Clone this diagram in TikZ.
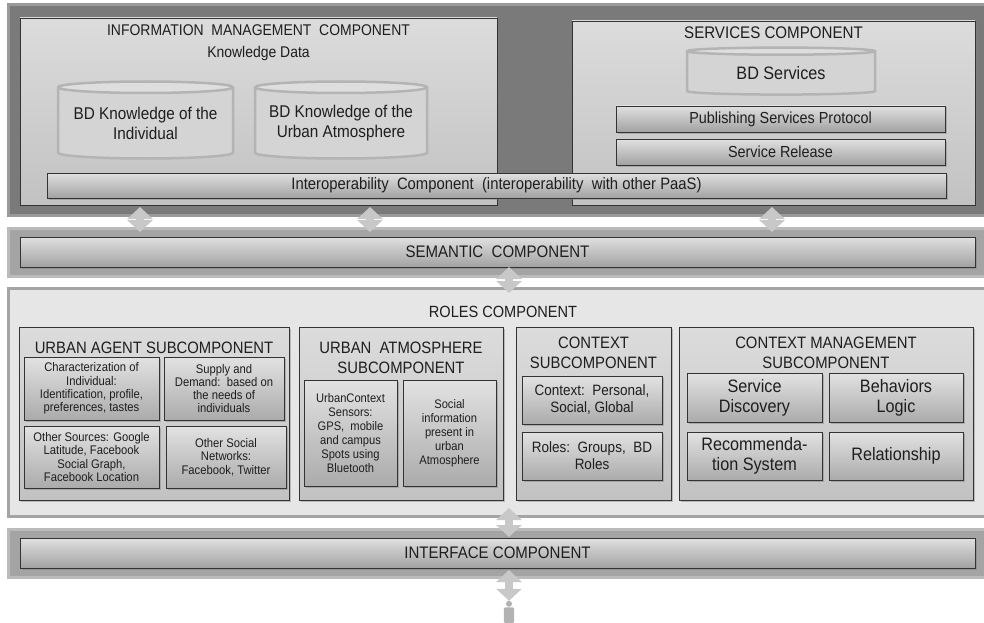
\documentclass[tikz,border=0pt]{standalone}
\usepackage{fontspec}
\setmainfont{Liberation Sans}[FakeStretch=0.9]
\usepackage{tikz}
\usetikzlibrary{positioning,shapes.geometric,shadows,arrows.meta}
\definecolor{txt}{HTML}{1E1E1E}
\definecolor{darkband}{HTML}{7A7A7A}
\definecolor{darkrim}{HTML}{9A9A9A}
\definecolor{midband}{HTML}{A4A4A4}
\definecolor{midrim}{HTML}{BBBBBB}
\definecolor{lightband}{HTML}{E6E6E6}
\definecolor{lightrim}{HTML}{A4A4A4}
\definecolor{paneltop}{HTML}{DCDCDC}
\definecolor{panelbot}{HTML}{C2C2C2}
\definecolor{bartop}{HTML}{E0E0E0}
\definecolor{barbot}{HTML}{A2A2A2}
\definecolor{celltop}{HTML}{E2E2E2}
\definecolor{cellbot}{HTML}{ABABAB}
\definecolor{dbfill}{HTML}{D4D4D4}
\definecolor{dbtop}{HTML}{DEDEDE}
\definecolor{dbrim}{HTML}{B4B4B4}
\definecolor{arrowgrey}{HTML}{C8C8C8}
\definecolor{usergrey}{HTML}{B2B2B2}
\newcommand{\fsz}[2]{\fontsize{#1}{#2}\selectfont}

\begin{document}
\begin{tikzpicture}[x=1pt,y=-1pt,
    every node/.style={text=txt,align=center,inner sep=0pt},
    band/.style={rectangle,minimum width=990pt,line width=3pt,anchor=west},
    boxshadow/.style={drop shadow={shadow xshift=1.5pt,shadow yshift=-1.5pt,opacity=.45}},
    panel/.style={rectangle,draw=black!80,line width=.8pt,top color=paneltop,bottom color=panelbot,boxshadow},
    bar/.style={rectangle,draw=black!80,line width=.8pt,top color=bartop,bottom color=barbot,boxshadow},
    cell/.style={rectangle,draw=black!80,line width=.8pt,top color=celltop,bottom color=cellbot,boxshadow},
    db/.style={cylinder,shape border rotate=90,aspect=0.08,draw=dbrim,line width=2.5pt,
        cylinder uses custom fill,cylinder body fill=dbfill,cylinder end fill=dbtop},
    title/.style={font=\fsz{16.5}{20}},
    updown/.style={{Triangle[width=25pt,length=12pt]}-{Triangle[width=25pt,length=12pt]},
        line width=8pt,draw=arrowgrey}]
    \useasboundingbox (0,0) rectangle (984,623);

    \node[band,draw=darkrim,fill=darkband,minimum height=211pt] (topband) at (6.5,110) {};
    \node[band,draw=midrim,fill=midband,minimum height=48pt] (semband) at (6.5,252.5) {};
    \node[band,draw=lightrim,fill=lightband,minimum height=228pt] (roles) at (6.5,402.5) {};
    \node[band,draw=midrim,fill=midband,minimum height=48pt] (ifband) at (6.5,553.5) {};

    \node[panel,minimum width=477pt,minimum height=187pt] (info) at (258.5,111.5) {};
    \node[title,font=\fsz{15.5}{22},below=7pt of info.north] (infotitle)
        {INFORMATION\ \ MANAGEMENT\ \ COMPONENT\\Knowledge Data};
    \node[db,minimum width=175pt,minimum height=77pt,font=\fsz{17}{20}] (dbind) at (145.5,123.5)
        {BD Knowledge of the\\Individual};
    \node[db,minimum width=172pt,minimum height=77pt,font=\fsz{17}{20}] (dburban) at (341,123.5)
        {BD Knowledge of the\\Urban Atmosphere};

    \node[panel,minimum width=403pt,minimum height=184pt] (services) at (773.5,113) {};
    \node[title,font=\fsz{16.8}{20},below=5.5pt of services.north] (servtitle) {SERVICES COMPONENT};
    \node[db,minimum width=188pt,minimum height=47pt,font=\fsz{18}{20}] (dbserv) at (781,73.5) {BD Services};
    \node[bar,minimum width=329pt,minimum height=26pt,font=\fsz{16}{18}] (publish) at (780.5,119)
        {Publishing Services Protocol};
    \node[bar,minimum width=329pt,minimum height=26pt,font=\fsz{16}{18}] (release) at (780.5,152)
        {Service Release};

    \node[bar,minimum width=899pt,minimum height=25pt,font=\fsz{16.5}{18}] (interop) at (496.5,185.5)
        {Interoperability\ \ Component\ \ (interoperability\ \ with other PaaS)};

    \node[bar,minimum width=955pt,minimum height=30pt,font=\fsz{16.7}{18}] (semantic) at (497.5,252)
        {SEMANTIC\ \ COMPONENT};

    \node[title,font=\fsz{16.2}{18},below=19pt of roles.north] (rolestitle) {ROLES COMPONENT};

    \node[panel,minimum width=270pt,minimum height=173pt] (agent) at (154,413.5) {};
    \node[title,below=15pt of agent.north] (agenttitle) {URBAN AGENT SUBCOMPONENT};
    \node[cell,minimum width=135pt,minimum height=63pt,font=\fsz{12.5}{13.3}] (charact) at (91.5,388.5)
        {Characterization of\\Individual:\\Identification, profile,\\preferences, tastes};
    \node[cell,minimum width=120pt,minimum height=63pt,font=\fsz{12.5}{13.3}] (supply) at (224,388.5)
        {Supply and\\Demand:\ \ based on\\the needs of\\individuals};
    \node[cell,minimum width=135pt,minimum height=62pt,font=\fsz{12.5}{13.3}] (sources) at (91.5,457)
        {Other Sources: Google\\Latitude, Facebook\\Social Graph,\\Facebook Location};
    \node[cell,minimum width=120pt,minimum height=62pt,font=\fsz{12.5}{13.3}] (networks) at (226,457)
        {Other Social\\Networks:\\Facebook, Twitter};

    \node[panel,minimum width=204pt,minimum height=173pt] (atmos) at (401,413.5) {};
    \node[title,below=15pt of atmos.north] (atmostitle) {URBAN\ \ ATMOSPHERE\\SUBCOMPONENT};
    \node[cell,minimum width=93pt,minimum height=106pt,font=\fsz{12.4}{14}] (sensors) at (350.5,433)
        {UrbanContext\\Sensors:\\GPS,\ \ mobile\\and campus\\Spots using\\Bluetooth};
    \node[cell,minimum width=93pt,minimum height=106pt,font=\fsz{12.4}{14}] (social) at (449.5,433)
        {Social\\information\\present in\\urban\\Atmosphere};

    \node[panel,minimum width=155pt,minimum height=173pt] (context) at (593.5,413.5) {};
    \node[title,below=10pt of context.north] (ctxtitle) {CONTEXT\\SUBCOMPONENT};
    \node[cell,minimum width=140pt,minimum height=48pt,font=\fsz{15}{17}] (ctxpers) at (592,400)
        {Context:\ \ Personal,\\Social, Global};
    \node[cell,minimum width=140pt,minimum height=48pt,font=\fsz{15}{17}] (ctxroles) at (592,456)
        {Roles:\ \ Groups,\ \ BD\\Roles};

    \node[panel,minimum width=294pt,minimum height=173pt] (ctxmgmt) at (826,413.5) {};
    \node[title,below=10pt of ctxmgmt.north] (mgmttitle) {CONTEXT MANAGEMENT\\SUBCOMPONENT};
    \node[cell,minimum width=135pt,minimum height=49pt,font=\fsz{18}{20}] (discovery) at (754.5,397.5)
        {Service\\Discovery};
    \node[cell,minimum width=134pt,minimum height=49pt,font=\fsz{18}{20}] (behaviors) at (896,397.5)
        {Behaviors\\Logic};
    \node[cell,minimum width=135pt,minimum height=48pt,font=\fsz{18}{20}] (recommend) at (754.5,456)
        {Recommenda-\\tion System};
    \node[cell,minimum width=134pt,minimum height=48pt,font=\fsz{18}{20}] (relation) at (896,456)
        {Relationship};

    \node[bar,minimum width=955pt,minimum height=30pt,font=\fsz{16.7}{18}] (interface) at (497.5,553)
        {INTERFACE COMPONENT};

    \node[minimum width=10pt,minimum height=22pt] (user) at (509,612) {};
    \fill[usergrey] ([yshift=-3pt]user.north) circle (3pt);
    \fill[usergrey,rounded corners=1.5pt] ([yshift=-6.5pt]user.north west) rectangle (user.south east);

    \coordinate (a1t) at (140,207);
    \coordinate (a1b) at (140,232);
    \coordinate (a2t) at (370,207);
    \coordinate (a2b) at (370,232);
    \coordinate (a3t) at (772,207);
    \coordinate (a3b) at (772,232);
    \coordinate (a4t) at (509,267);
    \coordinate (a4b) at (509,293);
    \coordinate (a5t) at (509,508);
    \coordinate (a5b) at (509,537);
    \coordinate (a6t) at (509,570);
    \draw[updown] (a1t) -- (a1b);
    \draw[updown] (a2t) -- (a2b);
    \draw[updown] (a3t) -- (a3b);
    \draw[updown] (a4t) -- (a4b);
    \draw[updown] (a5t) -- (a5b);
    \draw[updown] (a6t) -- (user.north);
\end{tikzpicture}
\end{document}
